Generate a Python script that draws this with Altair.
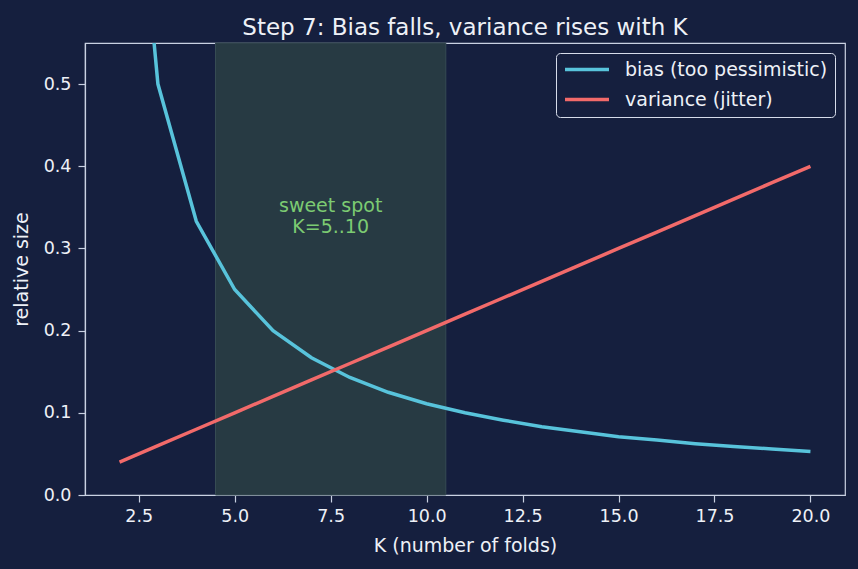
import altair as alt
import pandas as pd

# ---- data ----
K = list(range(2, 21))
bias = [1.0, 0.5, 0.333, 0.25, 0.2, 0.167, 0.143, 0.125, 0.111, 0.1,
        0.091, 0.083, 0.077, 0.071, 0.067, 0.0625, 0.059, 0.056, 0.053]
variance = [0.04, 0.06, 0.08, 0.10, 0.12, 0.14, 0.16, 0.18, 0.20, 0.22,
            0.24, 0.26, 0.28, 0.30, 0.32, 0.34, 0.36, 0.38, 0.40]
series_names = ["bias (too pessimistic)", "variance (jitter)"]
series_colors = ["#58c3db", "#f26a6a"]
x_ticks = [2.5, 5.0, 7.5, 10.0, 12.5, 15.0, 17.5, 20.0]
y_ticks = [0.0, 0.1, 0.2, 0.3, 0.4, 0.5]
shade_start = [4.5]
shade_end = [10.5]
note_x = [7.5]
note_y = [0.352]
note_text = ["sweet spot\nK=5..10"]

BG = "#151f3e"
FG = "#c9d1e2"
TXT = "#eef1f7"
W, H = 760, 452

rows = []
for name, vals in zip(series_names, [bias, variance]):
    for k, v in zip(K, vals):
        rows.append({"K": k, "value": v, "series": name})
df = pd.DataFrame(rows)

xscale = alt.Scale(domain=[1.1, 20.9], nice=False, zero=False)
yscale = alt.Scale(domain=[0, 0.55], nice=False)

shade = alt.Chart(pd.DataFrame({"a": shade_start, "b": shade_end})).mark_rect(
    fill="#273a43", stroke="#364b53", strokeWidth=1
).encode(
    x=alt.X("a:Q", scale=xscale),
    x2="b:Q",
    y=alt.value(0),
    y2=alt.value(H),
)

lines = alt.Chart(df).mark_line(strokeWidth=3.5, clip=True).encode(
    x=alt.X("K:Q", scale=xscale, title="K (number of folds)",
            axis=alt.Axis(values=x_ticks, format=".1f")),
    y=alt.Y("value:Q", scale=yscale, title="relative size",
            axis=alt.Axis(values=y_ticks, format=".1f")),
    color=alt.Color("series:N",
                    scale=alt.Scale(domain=series_names, range=series_colors),
                    legend=alt.Legend(
                        title=None, orient="top-right", offset=10,
                        symbolType="stroke", symbolSize=1936,
                        symbolStrokeWidth=3.5, labelFontSize=19,
                        labelLimit=400, clipHeight=19,
                        labelColor=TXT, fillColor=BG, strokeColor="#d6dcea",
                        cornerRadius=4, padding=7, rowPadding=10,
                        labelOffset=14, labelFont="DejaVu Sans")),
    order="K:Q",
)

note = alt.Chart(pd.DataFrame({"x": note_x, "y": note_y, "t": note_text})).mark_text(
    color="#7ccb72", fontSize=19, font="DejaVu Sans", lineBreak="\n",
    baseline="middle", align="center", lineHeight=21
).encode(x=alt.X("x:Q", scale=xscale), y=alt.Y("y:Q", scale=yscale), text="t:N")

chart = alt.layer(shade, lines, note).properties(
    width=W, height=H,
    title=alt.TitleParams("Step 7: Bias falls, variance rises with K",
                          fontSize=23, font="DejaVu Sans", color=TXT,
                          fontWeight="normal", anchor="middle", offset=3),
    background=BG,
    autosize=alt.AutoSizeParams(type="none"),
    padding={"left": 85, "top": 43, "right": 13, "bottom": 74},
).configure_view(
    stroke=FG, strokeWidth=1.2, fill=BG
).configure_axis(
    domainColor=FG, domainWidth=1.2, tickColor=FG, tickSize=7, tickWidth=1.2,
    labelColor=TXT, labelFontSize=17.5, labelFont="DejaVu Sans",
    titleColor=TXT, titleFontSize=19, titleFont="DejaVu Sans",
    titleFontWeight="normal", grid=False,
).configure_axisX(titlePadding=12, labelPadding=5).configure_axisY(
    titlePadding=12, labelPadding=7)

chart.save("out.html", embed_options={"renderer": "svg", "actions": False})
